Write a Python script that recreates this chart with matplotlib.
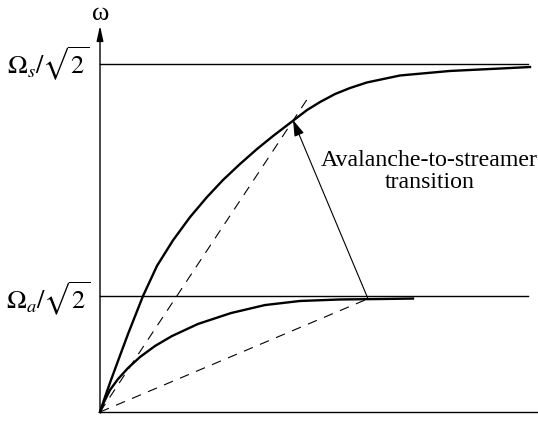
import numpy as np
import matplotlib
matplotlib.use("Agg")
import matplotlib.pyplot as plt

plt.rcParams["mathtext.fontset"] = "stix"
plt.rcParams["font.family"] = ["Liberation Serif", "DejaVu Serif"]
plt.rcParams["lines.scale_dashes"] = False

# frequency units: Omega_a/sqrt2 = 1, Omega_s/sqrt2 = 3
omega_a = 1.0
omega_s = 3.0

# streamer branch (upper curve)
x_up = [0.0, 0.05, 0.11, 0.18, 0.28, 0.43, 0.57, 0.73, 0.90, 1.07, 1.23, 1.40,
        1.57, 1.73, 1.90, 2.07, 2.20, 2.35, 2.50, 2.67, 3.00, 3.50, 4.00, 4.30]
y_up = [0.0, 0.129, 0.276, 0.440, 0.672, 1.0, 1.26, 1.48, 1.68, 1.853,
        2.0, 2.138, 2.267, 2.379, 2.491, 2.603, 2.672, 2.741, 2.793, 2.841,
        2.901, 2.940, 2.961, 2.974]

# avalanche branch (lower curve)
x_lo = [0.0, 0.04, 0.10, 0.18, 0.28, 0.40, 0.55, 0.72, 0.98, 1.31, 1.65, 2.00,
        2.40, 2.80, 3.13]
y_lo = [0.0, 0.086, 0.190, 0.284, 0.379, 0.474, 0.569, 0.655, 0.759, 0.853,
        0.922, 0.957, 0.970, 0.974, 0.978]

# transition points on each branch
p_lo = (2.68, 0.976)
p_hi = (1.93, 2.517)
ray_hi_end = (2.08, 2.707)

fig = plt.figure(figsize=(5.38, 4.45), dpi=100)
ax = fig.add_axes([0, 0, 1, 1])
ax.set_xlim(-1.0, 4.38)
ax.set_ylim(-33 / 116, 412 / 116)
ax.axis("off")

# axes
ax.plot([0, 4.38], [0, 0], color="black", lw=1.0)
ax.annotate("", xy=(0, 3.33), xytext=(0, 0),
            arrowprops=dict(arrowstyle="-|>,head_length=0.9,head_width=0.2",
                            color="black", lw=1.0, shrinkA=0, shrinkB=0))
ax.text(0.01, 3.43, "ω", ha="center", va="center", fontsize=19)

# plasma-frequency levels
ax.plot([0, 4.28], [omega_s, omega_s], color="black", lw=1.0)
ax.plot([0, 4.28], [omega_a, omega_a], color="black", lw=1.0)
ax.text(-0.11, omega_s - 10 / 116, r"$\Omega_s/\sqrt{2}$", ha="right",
        va="baseline", fontsize=19)
ax.text(-0.10, omega_a - 13 / 116, r"$\Omega_a/\sqrt{2}$", ha="right",
        va="baseline", fontsize=19)

# branches
ax.plot(x_up, y_up, color="black", lw=1.7, solid_joinstyle="round")
ax.plot(x_lo, y_lo, color="black", lw=1.7, solid_joinstyle="round")

# rays from origin
ax.plot([0, ray_hi_end[0]], [0, ray_hi_end[1]], color="black", lw=0.8,
        dashes=(7, 5.5))
ax.plot([0, p_lo[0]], [0, p_lo[1]], color="black", lw=0.8, dashes=(7, 5.5))

# transition arrow
ax.annotate("", xy=p_hi, xytext=p_lo,
            arrowprops=dict(arrowstyle="-|>,head_length=0.7,head_width=0.22",
                            color="black", lw=0.8, shrinkA=0, shrinkB=0,
                            mutation_scale=14))
ax.text(3.295, 224 / 116, "Avalanche-to-streamer\ntransition", ha="center",
        va="baseline", fontsize=17.2, linespacing=1.05)

fig.savefig("out.png", dpi=100)
